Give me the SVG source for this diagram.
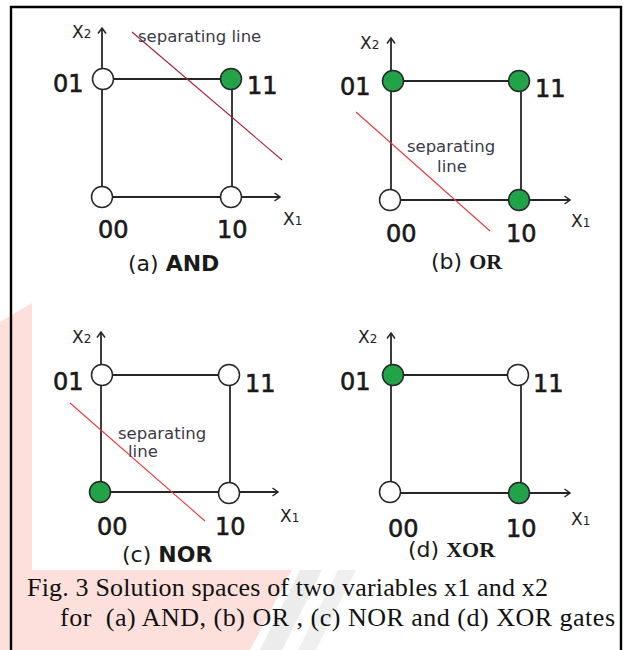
<svg xmlns="http://www.w3.org/2000/svg" width="626" height="650" viewBox="0 0 626 650">
<style>
.bg{fill:#ffffff}
.edge{stroke:#262626;stroke-width:1.8;fill:none}
.axis{stroke:#262626;stroke-width:1.8;fill:none;marker-end:url(#arr)}
.sepA{stroke:#a3203f;stroke-width:1.1;fill:none}
.sep{stroke:#e83a3e;stroke-width:1.1;fill:none}
.off{fill:#ffffff;stroke:#262626;stroke-width:1.5}
.on{fill:#23a347;stroke:#262626;stroke-width:1.5}
.lbl{font-family:"DejaVu Sans",Verdana,sans-serif;font-size:24px;fill:#1a1a1a;stroke:#1a1a1a;stroke-width:0.6}
.ax{font-family:"DejaVu Sans",Verdana,sans-serif;font-size:17px;fill:#222}
.ax .s{font-size:12px}
.sept{font-family:"DejaVu Sans",Verdana,sans-serif;font-size:16.5px;fill:#3a3a48}
.cap{font-family:"DejaVu Sans",Verdana,sans-serif;font-size:22px;fill:#1a1a1a}
.b{font-weight:bold}
.serifb{font-family:"Liberation Serif","Times New Roman",serif;font-weight:bold}
.fig{font-family:"Liberation Serif","Times New Roman",serif;font-size:26px;fill:#111;white-space:pre}
</style>
<defs>
<marker id="arr" viewBox="-7 -5 8 10" markerWidth="8" markerHeight="10" refX="0" refY="0" orient="auto" markerUnits="userSpaceOnUse">
<path d="M-5.5,-4 L0,0 L-5.5,4" fill="none" stroke="#262626" stroke-width="1.5"/>
</marker>
</defs>
<rect class="bg" x="0" y="0" width="626" height="650"/>
<g id="watermark">
<polygon points="0,322 32,303 32,570 292,570 250,650 0,650" fill="#fde0dc"/>
<polygon points="300,570 322,570 282,650 260,650" fill="#ececec"/>
<polygon points="338,570 356,570 316,650 298,650" fill="#f0f0f0"/>
<rect x="32" y="304" width="282" height="266" fill="#ffffff"/>
</g>
<path id="frame" d="M11,650 V7 H621 V650" fill="none" stroke="#000" stroke-width="2.4"/>

<g id="connectors">
<g id="conn-a">
<line class="edge" x1="102" y1="79" x2="232" y2="79"/>
<line class="edge" x1="232" y1="79" x2="232" y2="197"/>
<line class="axis" x1="102" y1="197" x2="102" y2="28"/>
<line class="axis" x1="102" y1="197" x2="280" y2="197"/>
<line class="sepA" x1="132" y1="32" x2="282" y2="160"/>
</g>
<g id="conn-b">
<line class="edge" x1="391" y1="81" x2="521" y2="81"/>
<line class="edge" x1="521" y1="81" x2="521" y2="200"/>
<line class="axis" x1="391" y1="200" x2="391" y2="38"/>
<line class="axis" x1="391" y1="200" x2="570" y2="200"/>
<line class="sep" x1="356" y1="112" x2="490" y2="231"/>
</g>
<g id="conn-c">
<line class="edge" x1="101" y1="375" x2="230" y2="375"/>
<line class="edge" x1="230" y1="375" x2="230" y2="492"/>
<line class="axis" x1="101" y1="492" x2="101" y2="332"/>
<line class="axis" x1="101" y1="492" x2="278" y2="492"/>
<line class="sep" x1="70" y1="403" x2="205" y2="521"/>
</g>
<g id="conn-d">
<line class="edge" x1="391" y1="375" x2="521" y2="375"/>
<line class="edge" x1="521" y1="375" x2="521" y2="493"/>
<line class="axis" x1="391" y1="493" x2="391" y2="333"/>
<line class="axis" x1="391" y1="493" x2="570" y2="493"/>
</g>
</g>

<g id="panel-a">
<text class="ax" x="72" y="38">X<tspan class="s">2</tspan></text>
<text class="ax" x="283" y="225">X<tspan class="s">1</tspan></text>
<text class="sept" x="138" y="42">separating line</text>
<g id="a-01"><circle class="off" cx="103" cy="79" r="10.5"/><text class="lbl" x="53" y="92">01</text></g>
<g id="a-11"><circle class="on" cx="231" cy="79" r="10.5"/><text class="lbl" x="247" y="94">11</text></g>
<g id="a-00"><circle class="off" cx="102" cy="197" r="10.5"/><text class="lbl" x="98" y="238">00</text></g>
<g id="a-10"><circle class="off" cx="231" cy="197" r="10.5"/><text class="lbl" x="217" y="238">10</text></g>
<text class="cap" x="128" y="271">(a) <tspan class="b">AND</tspan></text>
</g>

<g id="panel-b">
<text class="ax" x="360" y="49">X<tspan class="s">2</tspan></text>
<text class="ax" x="571" y="227">X<tspan class="s">1</tspan></text>
<text class="sept" x="451" y="152" text-anchor="middle">separating</text>
<text class="sept" x="452" y="172" text-anchor="middle">line</text>
<g id="b-01"><circle class="on" cx="393" cy="81" r="10.5"/><text class="lbl" x="340" y="95">01</text></g>
<g id="b-11"><circle class="on" cx="519" cy="81" r="10.5"/><text class="lbl" x="535" y="97">11</text></g>
<g id="b-00"><circle class="off" cx="390" cy="200" r="10.5"/><text class="lbl" x="386" y="242">00</text></g>
<g id="b-10"><circle class="on" cx="519" cy="200" r="10.5"/><text class="lbl" x="506" y="242">10</text></g>
<text class="cap" x="431" y="269">(b) <tspan class="serifb">OR</tspan></text>
</g>

<g id="panel-c">
<text class="ax" x="72" y="343">X<tspan class="s">2</tspan></text>
<text class="ax" x="280" y="522">X<tspan class="s">1</tspan></text>
<text class="sept" x="118" y="439">separating</text>
<text class="sept" x="128" y="457">line</text>
<g id="c-01"><circle class="off" cx="102" cy="375" r="10.5"/><text class="lbl" x="53" y="390">01</text></g>
<g id="c-11"><circle class="off" cx="229" cy="375" r="10.5"/><text class="lbl" x="245" y="392">11</text></g>
<g id="c-00"><circle class="on" cx="100" cy="492" r="10.5"/><text class="lbl" x="97" y="535">00</text></g>
<g id="c-10"><circle class="off" cx="229" cy="493" r="10.5"/><text class="lbl" x="215" y="535">10</text></g>
<text class="cap" x="122" y="562">(c) <tspan class="b">NOR</tspan></text>
</g>

<g id="panel-d">
<text class="ax" x="358" y="343">X<tspan class="s">2</tspan></text>
<text class="ax" x="571" y="525">X<tspan class="s">1</tspan></text>
<g id="d-01"><circle class="on" cx="393" cy="375" r="10.5"/><text class="lbl" x="340" y="390">01</text></g>
<g id="d-11"><circle class="off" cx="518" cy="375" r="10.5"/><text class="lbl" x="533" y="392">11</text></g>
<g id="d-00"><circle class="off" cx="390" cy="492" r="10.5"/><text class="lbl" x="388" y="537">00</text></g>
<g id="d-10"><circle class="on" cx="519" cy="493" r="10.5"/><text class="lbl" x="506" y="537">10</text></g>
<text class="cap" x="408" y="557">(d) <tspan class="serifb">XOR</tspan></text>
</g>

<g id="caption">
<text class="fig" x="27" y="596" textLength="521" lengthAdjust="spacing">Fig. 3 Solution spaces of two variables x1 and x2</text>
<text class="fig" x="60" y="626" textLength="555" lengthAdjust="spacing">for  (a) AND, (b) OR , (c) NOR and (d) XOR gates</text>
</g>
</svg>
